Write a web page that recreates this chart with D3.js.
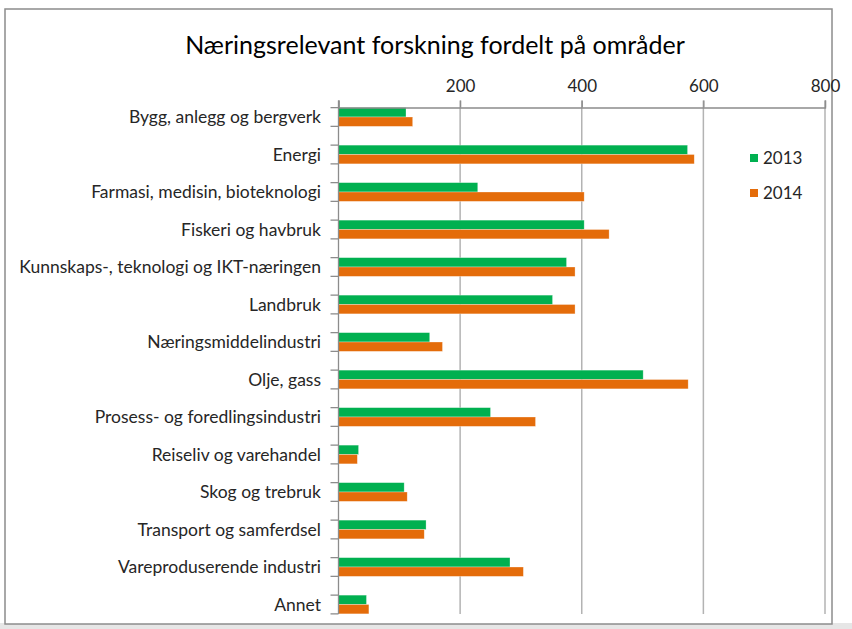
<!DOCTYPE html>
<html lang="no">
  <head>
    <meta charset="UTF-8" />
    <title>Næringsrelevant forskning fordelt på områder</title>
    <script src="https://d3js.org/d3.v7.min.js"></script>
    <style>
      body {
        margin: 0;
        background: #fff;
      }
      text {
        font-family: Lato, "Open Sans", sans-serif;
        fill: #262626;
      }
    </style>
  </head>
  <body>
    <svg id="svg" width="852" height="629"></svg>

    <script>
      const categories = [
        "Bygg, anlegg og bergverk",
        "Energi",
        "Farmasi, medisin, bioteknologi",
        "Fiskeri og havbruk",
        "Kunnskaps-, teknologi og IKT-næringen",
        "Landbruk",
        "Næringsmiddelindustri",
        "Olje, gass",
        "Prosess- og foredlingsindustri",
        "Reiseliv og varehandel",
        "Skog og trebruk",
        "Transport og samferdsel",
        "Vareproduserende industri",
        "Annet",
      ];
      const values2013 = [111, 574, 229, 404, 375, 352, 150, 501, 250, 33, 108, 144, 282, 46];
      const values2014 = [122, 585, 404, 445, 389, 389, 171, 575, 324, 31, 113, 141, 304, 50];
      const xTicks = [0, 200, 400, 600, 800];
      const seriesNames = ["2013", "2014"];

      const green = "#00b050",
        orange = "#e46c0a";

      const svg = d3.select("#svg");

      // frame
      svg.append("rect").attr("x", 0).attr("y", 623).attr("width", 852).attr("height", 6).attr("fill", "#e6e6e6");
      svg
        .append("rect")
        .attr("x", 5)
        .attr("y", 9)
        .attr("width", 827)
        .attr("height", 615)
        .attr("fill", "#fff")
        .attr("stroke", "#8c8c8c")
        .attr("stroke-width", 1.5);

      svg
        .append("text")
        .attr("x", 435)
        .attr("y", 54)
        .attr("text-anchor", "middle")
        .style("font-size", "25px")
        .style("fill", "#000")
        .text("Næringsrelevant forskning fordelt på områder");

      const x = d3.scaleLinear().domain([0, 800]).range([338.5, 825]);
      const y = d3
        .scaleBand()
        .domain(categories)
        .range([98.25, 623.25])
        .paddingInner(0.5)
        .paddingOuter(0.25);

      const plotTop = 107.5,
        plotBottom = 614;
      const half = y.bandwidth() / 2;

      // gridlines
      svg
        .append("g")
        .selectAll("line")
        .data(xTicks.slice(1))
        .join("line")
        .attr("x1", (d) => x(d))
        .attr("x2", (d) => x(d))
        .attr("y1", plotTop - 7)
        .attr("y2", plotBottom)
        .attr("stroke", "#b3b3b3")
        .attr("stroke-width", 1.5);

      // bars
      const rows = categories.map((c, i) => ({ c, v: [values2013[i], values2014[i]] }));
      const g = svg.append("g");
      [green, orange].forEach((col, s) => {
        g.selectAll(null)
          .data(rows)
          .join("rect")
          .attr("x", x(0))
          .attr("y", (d) => y(d.c) + s * half)
          .attr("width", (d) => x(d.v[s]) - x(0))
          .attr("height", half)
          .attr("fill", col)
          .attr("stroke", "#fff")
          .attr("stroke-opacity", 0.5)
          .attr("stroke-width", 0.6);
      });

      // top axis
      const xAxis = svg
        .append("g")
        .attr("transform", `translate(0,${plotTop})`)
        .call(
          d3
            .axisTop(x)
            .tickValues(xTicks)
            .tickSize(7)
            .tickPadding(9)
            .tickFormat((d) => (d === 0 ? "" : d))
        );
      xAxis.select(".domain").attr("stroke", "#8c8c8c").attr("stroke-width", 1.3);
      xAxis.selectAll(".tick line").attr("stroke", "#8c8c8c").attr("stroke-width", 1.3);
      xAxis.selectAll("text").style("font-size", "17px").style("font-family", "Lato, sans-serif").attr("fill", "#262626");

      // left axis line
      svg
        .append("line")
        .attr("x1", x(0))
        .attr("x2", x(0))
        .attr("y1", plotTop - 7)
        .attr("y2", plotBottom)
        .attr("stroke", "#8c8c8c")
        .attr("stroke-width", 1.3);

      // category tick marks and labels
      const ticksY = [];
      categories.forEach((c) => {
        ticksY.push(y(c));
        ticksY.push(y(c) + y.bandwidth());
      });
      svg
        .append("g")
        .selectAll("line")
        .data(ticksY)
        .join("line")
        .attr("x1", x(0) - 8)
        .attr("x2", x(0))
        .attr("y1", (d) => d)
        .attr("y2", (d) => d)
        .attr("stroke", "#8c8c8c")
        .attr("stroke-width", 1.3);

      svg
        .append("g")
        .selectAll("text")
        .data(categories)
        .join("text")
        .attr("x", 321)
        .attr("y", (d) => y(d) + half)
        .attr("dy", "0.35em")
        .attr("text-anchor", "end")
        .style("font-size", "17.5px")
        .text((d) => d);

      // legend
      const legend = svg
        .append("g")
        .selectAll("g")
        .data(seriesNames)
        .join("g")
        .attr("transform", (d, i) => `translate(750,${158 + i * 35})`);
      legend
        .append("rect")
        .attr("x", 0)
        .attr("y", -4)
        .attr("width", 8)
        .attr("height", 8)
        .attr("fill", (d, i) => [green, orange][i]);
      legend
        .append("text")
        .attr("x", 13)
        .attr("y", 0)
        .attr("dy", "0.35em")
        .style("font-size", "17px")
        .text((d) => d);
    </script>
  </body>
</html>
